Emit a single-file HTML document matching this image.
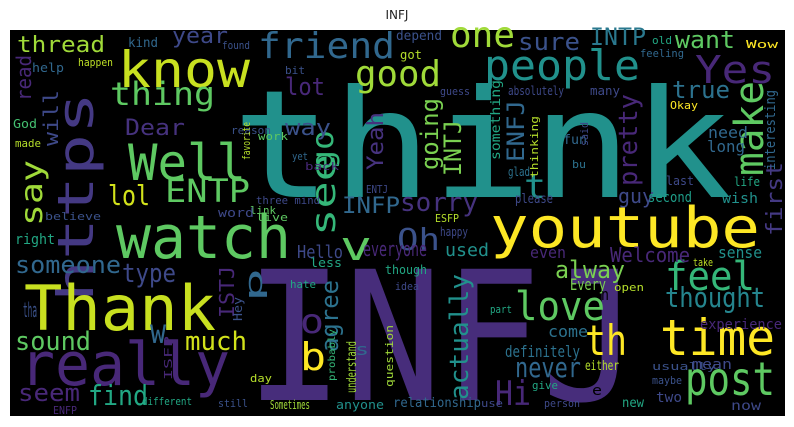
<!DOCTYPE html>
<html><head><meta charset="utf-8"><style>
html,body{margin:0;padding:0;background:#fff;}
svg{display:block;}
text{font-family:"DejaVu Sans Mono","Liberation Mono",monospace;}
</style></head><body>
<svg id="chart" width="794" height="427" xmlns="http://www.w3.org/2000/svg">
<text x="397" y="19" text-anchor="middle" style="font-family:'DejaVu Sans','Liberation Sans',sans-serif;font-size:12px;fill:#222">INFJ</text>
<rect x="10" y="30" width="775" height="386" fill="#000"/>
<g id="words"></g>
</svg>
<script>
const words = ["think","INFJ","https","youtube","watch","Thank","really","know","Well","friend","people","good","one","Yes","make","time","post","feel","love","thought","th","ENTP","thread","year","thing","sure","INTP","want","true","pretty","going","INTJ","ENFJ","lol","INFP","sorry","Oh","see","go","v","t","say","will","read","Dear","lot","way","Yeah","first","alway","never","Hi","actually","Welcome","someone","type","sound","much","seem","find","agree","b","o","p","ISTJ","definitely","kind","found","help","happen","depend","got","old","Wow","feeling","guess","absolutely","many","Okay","interesting","need","long","fun","said","something","thinking","glad","bu","last","life","guy","second","wish","please","ESFP","bit","reason","work","favorite","God","made","yet","back","ENTJ","three mind","link","live","believe","word","right","Hello","everyone","less","though","hate","used","even","sense","take","Every","open","part","come","experience","either","usually","mean","maybe","give","two","now","new","person","relationship","use","different","still","Sometimes","anyone","question","understand","probably","day","ISFP","ENFP","idea","happy","Hey","tha","w","s","e","n"];
const weights = [150,180,50,56,60,62,60,50,50,36,42,36,36,38,40,50,46,40,40,28,42,32,22,22,32,24,24,24,24,26,24,24,24,28,22,26,30,34,30,40,34,30,20,20,22,24,22,22,22,24,28,34,26,20,24,26,26,26,24,28,24,38,34,24,20,16,13,11,12,11,13,12,11,11,11,11,12,12,11,14,16,16,13,11,13,11,12,11,12,12,20,14,14,13,11,11,11,11,11,12,11,11,11,11,11,11,11,11,12,14,18,20,12,12,11,18,16,16,11,16,11,11,16,14,13,11,14,11,11,14,13,13,11,13,11,11,11,12,12,11,13,10,11,11,11,11,12,12,20,34,16,14];
const colors = ["#21918c","#472d7b","#443983","#fde725","#5ec962","#c8e020","#482878","#c8e020","#5ec962","#31688e","#21918c","#a0da39","#a0da39","#482878","#5ec962","#fde725","#5ec962","#35b779","#5ec962","#25858e","#fde725","#5ec962","#a0da39","#3e4989","#5ec962","#3b528b","#2a788e","#5ec962","#2c728e","#482878","#7ad151","#7ad151","#31688e","#d2e21b","#31688e","#46327e","#3b528b","#35b779","#35b779","#5ec962","#21918c","#a0da39","#3e4989","#482878","#46327e","#482878","#3b528b","#46327e","#443983","#7ad151","#31688e","#482878","#21918c","#482878","#31688e","#3e4989","#5ec962","#d2e21b","#482878","#22a884","#2c728e","#fde725","#482878","#31688e","#482878","#2c728e","#31688e","#3b528b","#31688e","#bddf26","#3b528b","#b5de2b","#22a884","#fde725","#31688e","#3e4989","#3e4989","#3e4989","#fde725","#31688e","#31688e","#31688e","#31688e","#3e4989","#22a884","#b5de2b","#2c728e","#2c728e","#3e4989","#22a884","#3e4989","#1f9e89","#21918c","#3e4989","#b5de2b","#3b528b","#3b528b","#5ec962","#b5de2b","#44bf70","#b5de2b","#31688e","#482878","#3e4989","#3e4989","#5ec962","#5ec962","#3b528b","#3e4989","#22a884","#3e4989","#482878","#22a884","#22a884","#22a884","#21918c","#482878","#21918c","#bddf26","#7ad151","#b5de2b","#22a884","#2c728e","#482878","#b5de2b","#3b528b","#3e4989","#3b528b","#22a884","#3e4989","#3e4989","#22a884","#3e4989","#31688e","#3e4989","#22a884","#3b528b","#a0da39","#21918c","#a0da39","#a0da39","#35b779","#b5de2b","#482878","#482878","#3e4989","#3e4989","#3b528b","#3b528b","#31688e","#31688e"];
// layout: [x, y, rotation, textLength or 0]
const layout = [[232,197,0,500],[245,400,0,395],[93,302,-90,210],[490,247,0,270],[116,258,0,175],[24,330,0,192],[20,385,0,210],[118,87,0,132],[128,180,0,118],[258,58,0,137],[484,80,0,156],[355,86,0,86],[450,47,0,65],[695,83,0,80],[763,176,-90,95],[660,355,0,115],[685,395,0,90],[665,290,0,90],[515,320,0,90],[665,307,0,100],[585,355,0,42],[165,202,0,85],[17,52,0,88],[172,43,0,56],[110,105,0,105],[518,50,0,62],[590,45,0,56],[675,48,0,60],[672,98,0,58],[637,186,-90,92],[438,170,-90,72],[461,176,-90,56],[524,162,-90,62],[108,205,0,42],[342,213,0,58],[400,211,0,78],[397,250,0,43],[335,236,-90,82],[333,170,-90,40],[340,260,0,32],[524,198,0,22],[42,226,-90,66],[58,146,-90,56],[31,101,-90,46],[125,135,0,60],[285,95,0,40],[285,135,0,46],[383,170,-90,58],[782,236,-90,74],[555,278,0,70],[515,377,0,66],[495,405,0,36],[468,400,-90,126],[610,262,0,80],[15,273,0,106],[122,282,0,54],[15,350,0,76],[185,350,0,62],[18,401,0,62],[88,405,0,60],[338,352,-90,72],[300,370,0,26],[300,333,0,24],[262,302,-90,34],[234,318,-90,52],[505,357,0,75],[128,47,0,30],[222,49,0,28],[32,72,0,32],[78,66,0,35],[396,40,0,46],[400,59,0,22],[652,44,0,20],[746,48,0,32],[640,57,0,44],[440,95,0,30],[508,95,0,56],[590,95,0,30],[670,109,0,28],[775,170,-90,80],[708,138,0,40],[707,152,0,38],[563,144,0,24],[588,146,-90,24],[500,160,-90,80],[538,178,-90,62],[508,176,0,22],[572,168,0,14],[666,185,0,28],[734,186,0,26],[618,203,0,36],[648,202,0,44],[722,203,0,36],[515,203,0,38],[435,222,0,24],[285,74,0,20],[231,134,0,40],[258,140,0,30],[250,160,-90,38],[13,128,0,24],[15,147,0,26],[292,160,0,16],[305,170,0,34],[366,193,0,22],[256,204,0,64],[250,214,0,26],[256,221,0,32],[45,220,0,56],[218,217,0,36],[15,244,0,40],[297,258,0,46],[363,256,0,64],[310,267,0,32],[385,274,0,42],[290,288,0,26],[445,256,0,44],[530,258,0,36],[718,258,0,44],[693,266,0,20],[570,290,0,36],[614,291,0,30],[490,313,0,22],[548,337,0,40],[700,329,0,82],[585,370,0,34],[652,370,0,64],[692,369,0,40],[652,384,0,30],[532,389,0,26],[656,402,0,26],[731,410,0,30],[622,407,0,22],[544,407,0,36],[393,407,0,88],[481,407,0,22],[142,405,0,50],[218,407,0,30],[270,409,0,40],[336,409,0,48],[393,387,-90,62],[356,393,-90,52],[335,381,-90,52],[250,382,0,22],[172,380,-90,44],[53,414,0,24],[395,290,0,24],[440,236,0,28],[242,321,-90,24],[23,317,0,14],[150,343,0,16],[355,355,0,14],[592,395,0,10],[601,300,0,8]];
const NS = "http://www.w3.org/2000/svg";
const g = document.getElementById("words");
for (let i = 0; i < words.length; i++) {
  const L = layout[i]; if (!L) continue;
  const t = document.createElementNS(NS, "text");
  t.setAttribute("x", L[0]); t.setAttribute("y", L[1]);
  t.setAttribute("font-size", weights[i]);
  t.setAttribute("fill", colors[i]);
  if (L[2]) t.setAttribute("transform", "rotate(" + L[2] + " " + L[0] + " " + L[1] + ")");
  if (L[3]) { t.setAttribute("textLength", L[3]); t.setAttribute("lengthAdjust", "spacingAndGlyphs"); }
  t.textContent = words[i];
  
  
  g.appendChild(t);
}
</script>
</body></html>
